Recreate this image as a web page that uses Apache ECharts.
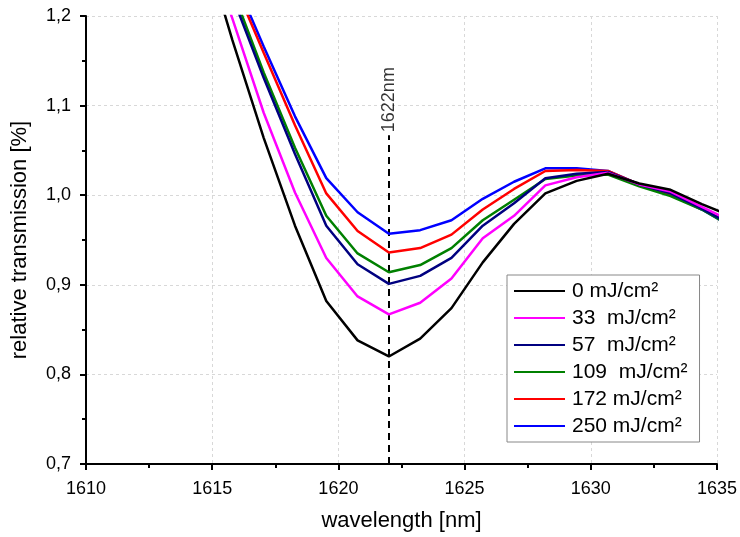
<!DOCTYPE html>
<html><head><meta charset="utf-8">
<script src="https://cdn.jsdelivr.net/npm/echarts@6/dist/echarts.min.js"></script>
<style>html,body{margin:0;padding:0;background:#fff}#c{width:740px;height:537px}</style>
</head><body><div id="c"></div>
<script>
const wavelengths = [1614.56, 1615.8, 1617.04, 1618.28, 1619.52, 1620.76, 1622.0, 1623.24, 1624.48, 1625.72, 1626.96, 1628.2, 1629.44, 1630.68, 1631.92, 1633.16, 1634.4, 1635.64];
const seriesNames = ['0 mJ/cm²', '33  mJ/cm²', '57  mJ/cm²', '109  mJ/cm²', '172 mJ/cm²', '250 mJ/cm²'];
const s0   = [1.29, 1.173, 1.064, 0.966, 0.882, 0.838, 0.820, 0.840, 0.874, 0.925, 0.968, 1.002, 1.016, 1.024, 1.013, 1.006, 0.990, 0.976];
const s33  = [1.30, 1.197, 1.092, 1.003, 0.930, 0.887, 0.867, 0.880, 0.907, 0.952, 0.977, 1.011, 1.020, 1.025, 1.012, 1.004, 0.987, 0.970];
const s57  = [1.31, 1.222, 1.131, 1.046, 0.966, 0.923, 0.901, 0.910, 0.930, 0.966, 0.991, 1.019, 1.024, 1.026, 1.012, 1.002, 0.985, 0.966];
const s109 = [1.32, 1.229, 1.137, 1.053, 0.977, 0.935, 0.914, 0.922, 0.941, 0.972, 0.995, 1.018, 1.022, 1.023, 1.010, 0.999, 0.984, 0.964];
const s172 = [1.33, 1.241, 1.159, 1.078, 1.002, 0.960, 0.936, 0.941, 0.956, 0.984, 1.007, 1.027, 1.028, 1.027, 1.012, 1.001, 0.985, 0.966];
const s250 = [1.33, 1.247, 1.166, 1.088, 1.019, 0.981, 0.957, 0.961, 0.972, 0.996, 1.015, 1.030, 1.030, 1.027, 1.012, 1.001, 0.984, 0.964];
const allSeries = [s0, s33, s57, s109, s172, s250];
const colors = ['#000000', '#ff00ff', '#000080', '#008000', '#ff0000', '#0000ff'];
const markerX = 1622;
const markerTop = 1.067;
const markerLabel = '1622nm';

const font = 'Liberation Sans, Arial, sans-serif';
const chart = echarts.init(document.getElementById('c'), null, {renderer: 'canvas'});
const series = allSeries.map((vals, i) => ({
  name: seriesNames[i],
  type: 'line',
  data: wavelengths.map((w, j) => [w, vals[j]]),
  symbol: 'none',
  lineStyle: {color: colors[i], width: 2.5},
  itemStyle: {color: colors[i]},
  z: 10 - i,
  animation: false
}));
series.push({
  type: 'line', data: [], silent: true, animation: false,
  markLine: {
    symbol: ['none', 'none'], silent: true, animation: false,
    lineStyle: {color: '#000', type: [7, 5], width: 2},
    label: {show: false},
    data: [[{coord: [markerX, 0.7]}, {coord: [markerX, markerTop]}]]
  }
});
series.push({
  type: 'scatter', silent: true, animation: false,
  data: [[markerX, markerTop]], symbolSize: 0,
  label: {show: true, position: 'top', distance: 3, rotate: 90, align: 'left', verticalAlign: 'middle',
    formatter: markerLabel, color: '#000', fontSize: 18, fontFamily: font}
});
chart.setOption({
  animation: false,
  grid: {left: 86, right: 22, top: 16, bottom: 70},
  legend: {
    orient: 'vertical', left: 507, top: 275,
    backgroundColor: '#fff', borderColor: '#888', borderWidth: 1,
    padding: [5, 12, 5, 7], itemGap: 5, itemWidth: 51, itemHeight: 2, icon: 'rect',
    textStyle: {fontSize: 21, lineHeight: 22, fontFamily: font, color: '#000', padding: [0, 0, 0, 2]},
    data: seriesNames
  },
  xAxis: {
    type: 'value', min: 1610, max: 1635, interval: 5,
    name: 'wavelength [nm]', nameLocation: 'middle', nameGap: 46,
    nameTextStyle: {fontSize: 22, fontFamily: font, color: '#000', verticalAlign: 'top'},
    axisLine: {onZero: false, lineStyle: {color: '#000', width: 2}},
    axisTick: {show: true, length: 6, lineStyle: {color: '#000', width: 2}},
    minorTick: {show: true, splitNumber: 2, length: 4, lineStyle: {color: '#000', width: 2}},
    axisLabel: {fontSize: 18, fontFamily: font, color: '#000', margin: 16, formatter: v => String(v)},
    splitLine: {show: true, lineStyle: {color: '#d8d8d8', type: [3, 3], width: 1}}
  },
  yAxis: {
    type: 'value', min: 0.7, max: 1.2, interval: 0.1,
    name: 'relative transmission [%]', nameLocation: 'middle', nameGap: 55,
    nameTextStyle: {fontSize: 22, fontFamily: font, color: '#000'},
    axisLine: {show: true, onZero: false, lineStyle: {color: '#000', width: 2}},
    axisTick: {show: true, length: 6, lineStyle: {color: '#000', width: 2}},
    minorTick: {show: true, splitNumber: 2, length: 4, lineStyle: {color: '#000', width: 2}},
    axisLabel: {fontSize: 18, fontFamily: font, color: '#000', margin: 15,
      formatter: v => v.toFixed(1).replace('.', ',')},
    splitLine: {show: true, lineStyle: {color: '#d8d8d8', type: [3, 3], width: 1}}
  },
  series: series
});
</script></body></html>
